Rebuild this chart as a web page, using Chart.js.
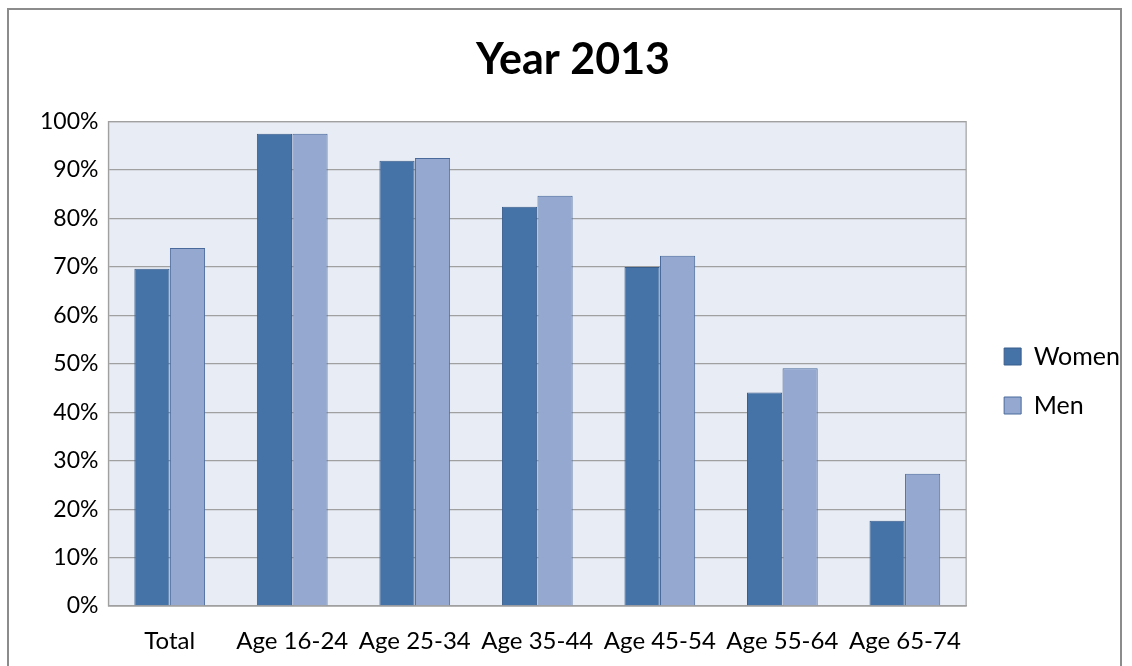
<!DOCTYPE html>
<html>
<head>
    <title>Year 2013</title>
    <script src="https://cdn.jsdelivr.net/npm/chart.js"></script>
    <style>
        body { margin: 0; background: #fff; }
    </style>
</head>
<body>
    <div style="width: 1132px; height: 666px; position: relative;">
        <canvas id="barChart"></canvas>
    </div>

    <script>
        // Data
        const categories = ['Total', 'Age 16-24', 'Age 25-34', 'Age 35-44', 'Age 45-54', 'Age 55-64', 'Age 65-74'];
        const women = [69.6, 97.5, 91.9, 82.4, 70.0, 44.1, 17.6];
        const men = [73.9, 97.5, 92.5, 84.7, 72.3, 49.1, 27.3];

        // plot background, plot frame and outer frame
        const framePlugin = {
            id: 'frame',
            afterLayout(chart) {
                // nudge the legend a bit right/down like the original
                chart.legend.left += 14;
                chart.legend.right += 14;
                chart.legend.top += 30;
                chart.legend.bottom += 30;
            },
            beforeDraw(chart) {
                const ctx = chart.ctx;
                const a = chart.chartArea;
                ctx.save();
                ctx.fillStyle = '#E8ECF4';
                ctx.fillRect(a.left, a.top, a.right - a.left, a.bottom - a.top);
                ctx.strokeStyle = '#8C8C8C';
                ctx.lineWidth = 2;
                ctx.strokeRect(8, 9, 1113, 700);
                ctx.restore();
            },
            afterDatasetsDraw(chart) {
                const ctx = chart.ctx;
                const a = chart.chartArea;
                ctx.save();
                ctx.strokeStyle = '#A0A0A0';
                ctx.lineWidth = 1.2;
                ctx.strokeRect(a.left, a.top, a.right - a.left, a.bottom - a.top);
                ctx.restore();
            }
        };

        const ctx = document.getElementById('barChart').getContext('2d');
        new Chart(ctx, {
            type: 'bar',
            data: {
                labels: categories,
                datasets: [{
                    label: 'Women',
                    data: women,
                    backgroundColor: '#4572A7',
                    borderColor: '#3A5E8C',
                    borderWidth: 1
                }, {
                    label: 'Men',
                    data: men,
                    backgroundColor: '#95A9D0',
                    borderColor: '#4A6A9C',
                    borderWidth: 1
                }]
            },
            options: {
                responsive: true,
                maintainAspectRatio: false,
                animation: false,
                categoryPercentage: 0.58,
                barPercentage: 0.99,
                layout: {
                    padding: { top: 26, left: 30, right: 16, bottom: -10 }
                },
                plugins: {
                    title: {
                        display: true,
                        text: 'Year 2013',
                        color: '#000',
                        font: { family: 'Lato', size: 43, weight: 'bold' },
                        padding: { top: 8, bottom: 36 }
                    },
                    legend: {
                        position: 'right',
                        labels: {
                            color: '#000',
                            font: { family: 'Lato', size: 25 },
                            boxWidth: 17,
                            boxHeight: 17,
                            padding: 24
                        }
                    },
                    tooltip: { enabled: false }
                },
                scales: {
                    x: {
                        grid: { display: false, drawTicks: false },
                        border: { color: '#A0A0A0', width: 1.2 },
                        ticks: {
                            color: '#000',
                            font: { family: 'Lato', size: 24, lineHeight: 1 },
                            padding: 23,
                            maxRotation: 0
                        }
                    },
                    y: {
                        min: 0,
                        max: 100,
                        grid: { color: '#A0A0A0', lineWidth: 1.2, drawTicks: false },
                        border: { color: '#A0A0A0', width: 1.2 },
                        ticks: {
                            stepSize: 10,
                            color: '#000',
                            font: { family: 'Lato', size: 23 },
                            padding: 10,
                            callback: v => v + '%'
                        }
                    }
                }
            },
            plugins: [framePlugin]
        });
    </script>
</body>
</html>
